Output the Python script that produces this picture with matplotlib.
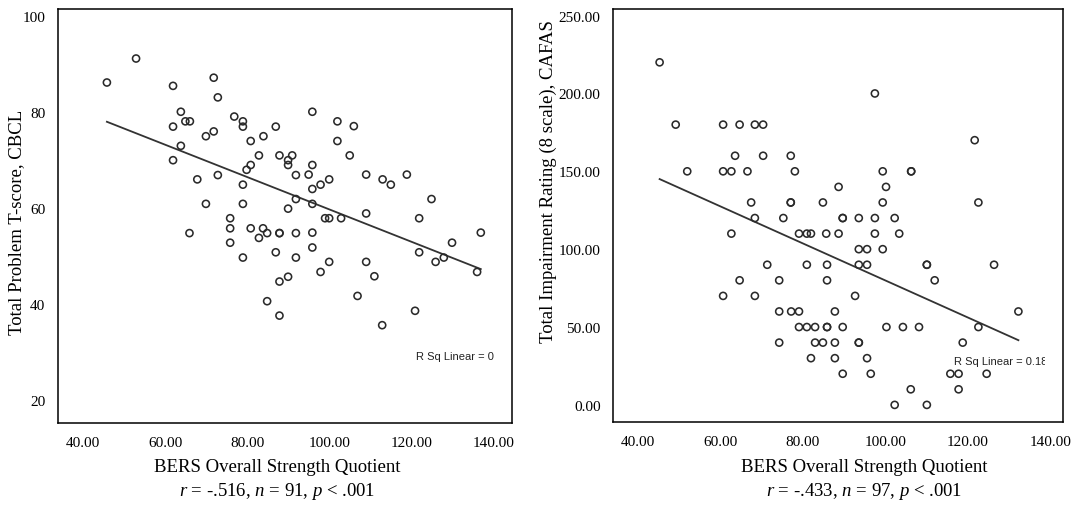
import numpy as np
import matplotlib
matplotlib.use("Agg")
import matplotlib.pyplot as plt
from matplotlib.transforms import Bbox, TransformedBbox

plt.rcParams['font.family'] = ['Liberation Serif', 'DejaVu Serif']
plt.rcParams['mathtext.fontset'] = 'custom'
plt.rcParams['mathtext.rm'] = 'Liberation Serif'
plt.rcParams['mathtext.it'] = 'Liberation Serif:italic'

# left panel: BERS vs CBCL total problem T-score
cbcl_x = [45.8, 52.9, 61.9, 71.8, 72.8, 63.8, 64.9, 66.0, 61.9, 76.8, 78.9, 78.9,
          69.9, 71.8, 63.8, 61.9, 80.8, 83.9, 86.9, 82.8, 87.8, 90.9, 89.9, 89.9,
          91.8, 80.8, 79.8, 72.8, 67.8, 78.9, 91.8, 69.9, 78.9, 89.9, 75.8, 75.8,
          65.9, 80.8, 83.8, 84.8, 82.8, 87.8, 87.8, 91.8, 75.8, 78.9, 86.9, 91.8,
          89.9, 87.8, 84.8, 87.8,
          95.8, 101.9, 105.9, 101.9, 104.9, 95.8, 94.9, 108.9, 112.9, 114.9, 118.8, 99.9,
          97.8, 95.8, 95.8, 124.8, 98.9, 99.9, 102.8, 108.9, 121.8, 95.8, 136.8, 95.8,
          129.8, 121.8, 99.9, 108.9, 125.8, 127.8, 97.8, 110.9, 135.9, 106.8, 120.8, 112.8]
cbcl_y = [86.2, 91.2, 85.5, 87.2, 83.1, 80.1, 78.1, 78.1, 77.0, 79.1, 78.1, 77.0,
          75.0, 76.0, 73.0, 70.0, 74.0, 75.0, 77.0, 71.0, 71.0, 71.0, 70.0, 69.0,
          66.9, 69.0, 68.0, 66.9, 66.0, 64.9, 61.9, 60.9, 60.9, 59.9, 57.9, 55.8,
          54.8, 55.8, 55.8, 54.8, 53.8, 54.8, 54.8, 54.8, 52.8, 49.7, 50.8, 49.7,
          45.7, 44.7, 40.6, 37.6,
          80.1, 78.1, 77.1, 74.0, 71.0, 69.0, 67.0, 67.0, 66.0, 64.9, 67.0, 66.0,
          64.9, 64.0, 60.9, 61.9, 57.9, 57.9, 57.9, 58.9, 57.9, 54.9, 54.9, 51.8,
          52.8, 50.8, 48.8, 48.8, 48.8, 49.7, 46.7, 45.8, 46.7, 41.7, 38.6, 35.6]

# right panel: BERS vs CAFAS total impairment
cafas_x = [45.3, 97.5, 49.2, 60.7, 64.7, 68.4, 70.4, 121.7, 63.6, 70.4, 77.1,
           52.0, 60.7, 62.7, 66.6, 78.1, 99.4, 106.3, 106.3, 88.7, 100.2,
           67.5, 77.1, 77.1, 84.9, 99.4, 122.6,
           68.4, 75.3, 89.7, 89.7, 93.6, 97.5, 102.3,
           62.7, 79.1, 81.0, 82.0, 85.7, 88.7, 97.5, 103.4,
           93.6, 95.6, 99.4,
           71.4, 81.0, 85.9, 93.6, 95.6, 110.1, 110.1, 126.4,
           64.7, 74.3, 85.9, 112.0,
           60.7, 68.4, 92.7,
           74.3, 77.2, 79.1, 87.8, 132.3,
           79.1, 81.0, 83.0, 85.9, 85.9, 89.7, 100.3, 104.3, 108.2, 122.6,
           74.3, 83.0, 84.9, 87.8, 93.6, 93.6, 118.8,
           82.0, 87.8, 95.6,
           89.7, 96.5, 115.8, 117.8, 124.6,
           106.2, 117.8,
           102.3, 110.1]
cafas_y = [220, 200, 180, 180, 180, 180, 180, 170, 160, 160, 160,
           150, 150, 150, 150, 150, 150, 150, 150, 140, 140,
           130, 130, 130, 130, 130, 130,
           120, 120, 120, 120, 120, 120, 120,
           110, 110, 110, 110, 110, 110, 110, 110,
           100, 100, 100,
           90, 90, 90, 90, 90, 90, 90, 90,
           80, 80, 80, 80,
           70, 70, 70,
           60, 60, 60, 60, 60,
           50, 50, 50, 50, 50, 50, 50, 50, 50, 50,
           40, 40, 40, 40, 40, 40, 40,
           30, 30, 30,
           20, 20, 20, 20, 20,
           10, 10,
           0, 0]

x_ticks = [40, 60, 80, 100, 120, 140]
cbcl_ticks = [20, 40, 60, 80, 100]
cafas_ticks = [0, 50, 100, 150, 200, 250]

fig = plt.figure(figsize=(10.8, 5.06), dpi=100)
ax1 = fig.add_axes([0.0537, 0.162, 0.4204, 0.818])
ax2 = fig.add_axes([0.5676, 0.164, 0.4166, 0.817])


def panel(ax, x, y, xlim, ylim, yticks, yfmt, rsq, rsq_pos, clip_x):
    x = np.array(x, dtype=float)
    y = np.array(y, dtype=float)
    ax.scatter(x, y, s=26, facecolors='none', edgecolors='#2a2a2a', linewidths=1.15, zorder=3)
    b, a = np.polyfit(x, y, 1)
    xs = np.array([x.min(), x.max()])
    ax.plot(xs, a + b * xs, color='#333333', lw=1.3, zorder=2)
    ax.set_xlim(*xlim)
    ax.set_ylim(*ylim)
    ax.set_xticks(x_ticks)
    ax.set_xticklabels([f'{t:.2f}' for t in x_ticks])
    ax.set_yticks(yticks)
    ax.set_yticklabels([yfmt(t) for t in yticks])
    ax.tick_params(length=0, labelsize=11, pad=9)
    for s in ax.spines.values():
        s.set_color('black')
        s.set_linewidth(1.1)
    t = ax.text(rsq_pos[0], rsq_pos[1], rsq, family='Liberation Sans', fontsize=8,
                va='center', ha='left', color='#222222')
    t.set_clip_box(TransformedBbox(Bbox([[xlim[0], ylim[0]], [clip_x, ylim[1]]]), ax.transData))
    t.set_clip_on(True)


panel(ax1, cbcl_x, cbcl_y, (33.9, 144.4), (15.2, 101.5), cbcl_ticks,
      lambda v: f'{v}', 'R Sq Linear = 0.266', (121.0, 29.2), 140.05)
panel(ax2, cafas_x, cafas_y, (34.0, 143.1), (-11, 254.5), cafas_ticks,
      lambda v: f'{v:.2f}', 'R Sq Linear = 0.188', (116.8, 28.1), 138.7)

fig.text(17 / 1080, 1 - 222 / 506, 'Total Problem T-score, CBCL', rotation=90,
         ha='center', va='center', fontsize=13.5)
fig.text(548 / 1080, 1 - 182 / 506, 'Total Impairment Rating (8 scale), CAFAS', rotation=90,
         ha='center', va='center', fontsize=13.5)

for cx, stats in [(277, r'$\mathit{r}$ = -.516, $\mathit{n}$ = 91, $\mathit{p}$ < .001'),
                  (864, r'$\mathit{r}$ = -.433, $\mathit{n}$ = 97, $\mathit{p}$ < .001')]:
    fig.text(cx / 1080, 1 - 468 / 506, 'BERS Overall Strength Quotient',
             ha='center', va='center', fontsize=13.5)
    fig.text(cx / 1080, 1 - 492 / 506, stats, ha='center', va='center', fontsize=13.5)

fig.savefig('out.png', dpi=100)
